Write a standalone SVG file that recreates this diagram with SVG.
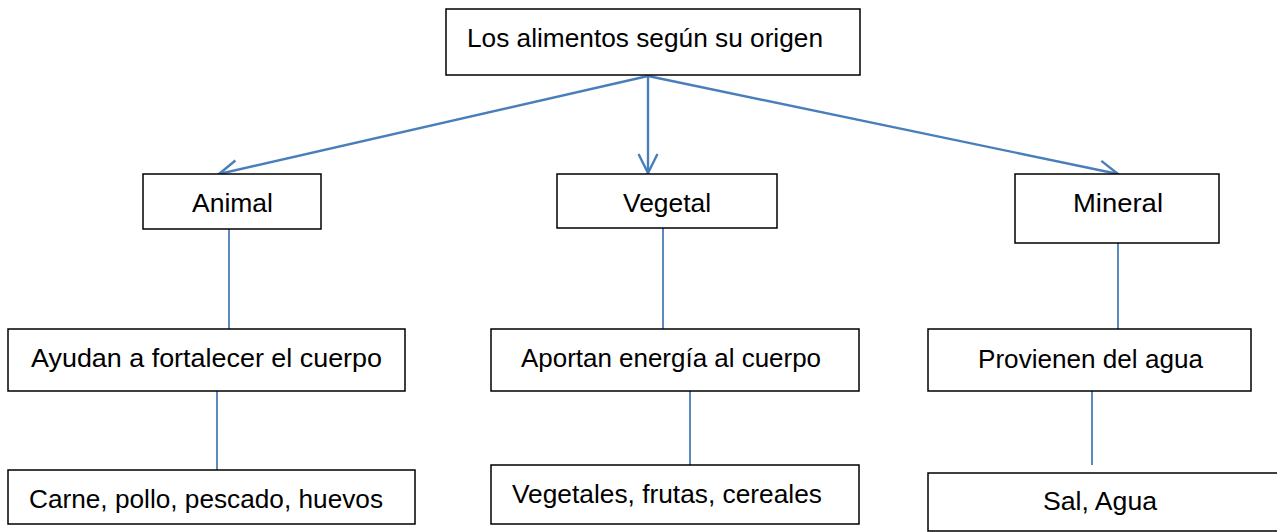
<svg xmlns="http://www.w3.org/2000/svg" width="1277" height="532" viewBox="0 0 1277 532">
<style>
.box{fill:#fff;stroke:#000;stroke-width:1.5}
.t{font-family:"Liberation Sans","DejaVu Sans",sans-serif;font-size:25px;fill:#000}
.c{fill:none;stroke:#4A7EBB;stroke-width:2.4}
.cl{fill:none;stroke:#4A7EBB;stroke-width:1.8}
</style>
<defs>
<marker id="arr" markerUnits="userSpaceOnUse" markerWidth="40" markerHeight="40" refX="30" refY="20" orient="auto" overflow="visible">
<path d="M11,10.5 L30,20 L11,29.5" fill="none" stroke="#4A7EBB" stroke-width="2.4"/>
</marker>
</defs>
<rect width="1277" height="532" fill="#fff"/>
<g id="connectors">
<line class="c" x1="648" y1="76" x2="219" y2="174" marker-end="url(#arr)"/>
<line class="c" x1="648" y1="76" x2="648" y2="173" marker-end="url(#arr)"/>
<line class="c" x1="648" y1="76" x2="1118" y2="174" marker-end="url(#arr)"/>
<line class="cl" x1="229" y1="229" x2="229" y2="329"/>
<line class="cl" x1="217" y1="391" x2="217" y2="470"/>
<line class="cl" x1="663" y1="228" x2="663" y2="329"/>
<line class="cl" x1="690" y1="391" x2="690" y2="465"/>
<line class="cl" x1="1118" y1="243" x2="1118" y2="329"/>
<line class="cl" x1="1092" y1="391" x2="1092" y2="465"/>
</g>
<g id="root">
<rect class="box" x="446" y="9" width="414" height="66"/>
<text class="t" x="467" y="47" textLength="356" lengthAdjust="spacingAndGlyphs">Los alimentos según su origen</text>
</g>
<g id="animal">
<rect class="box" x="143" y="174" width="178" height="55"/>
<text class="t" x="192" y="212" textLength="81" lengthAdjust="spacingAndGlyphs">Animal</text>
</g>
<g id="vegetal">
<rect class="box" x="557" y="174" width="220" height="54"/>
<text class="t" x="623" y="212" textLength="88" lengthAdjust="spacingAndGlyphs">Vegetal</text>
</g>
<g id="mineral">
<rect class="box" x="1015" y="174" width="204" height="69"/>
<text class="t" x="1073" y="212" textLength="90" lengthAdjust="spacingAndGlyphs">Mineral</text>
</g>
<g id="ayudan">
<rect class="box" x="8" y="329" width="397" height="62"/>
<text class="t" x="31" y="367" textLength="351" lengthAdjust="spacingAndGlyphs">Ayudan a fortalecer el cuerpo</text>
</g>
<g id="aportan">
<rect class="box" x="491" y="329" width="368" height="62"/>
<text class="t" x="521" y="367" textLength="300" lengthAdjust="spacingAndGlyphs">Aportan energía al cuerpo</text>
</g>
<g id="provienen">
<rect class="box" x="928" y="329" width="323" height="62"/>
<text class="t" x="978" y="368" textLength="225" lengthAdjust="spacingAndGlyphs">Provienen del agua</text>
</g>
<g id="carne">
<rect class="box" x="8" y="470" width="407" height="54"/>
<text class="t" x="29" y="508" textLength="354" lengthAdjust="spacingAndGlyphs">Carne, pollo, pescado, huevos</text>
</g>
<g id="vegetales">
<rect class="box" x="491" y="465" width="368" height="59"/>
<text class="t" x="512" y="503" textLength="310" lengthAdjust="spacingAndGlyphs">Vegetales, frutas, cereales</text>
</g>
<g id="sal">
<rect class="box" x="928" y="473" width="360" height="58"/>
<text class="t" x="1043" y="510" textLength="114" lengthAdjust="spacingAndGlyphs">Sal, Agua</text>
</g>
</svg>
